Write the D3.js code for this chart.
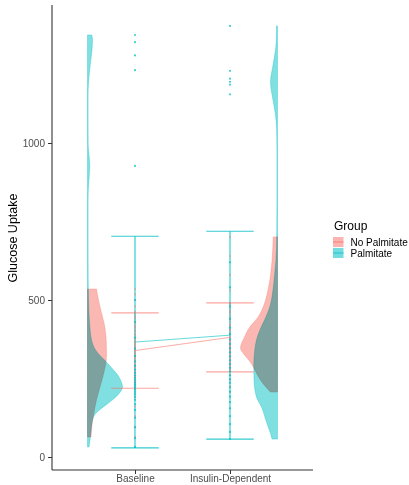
<!DOCTYPE html>
<html>
<head>
<meta charset="utf-8">
<script src="https://cdn.jsdelivr.net/npm/d3@7"></script>
<style>
  html, body { margin: 0; padding: 0; background: #fff; }
  svg { display: block; font-family: "Liberation Sans", Arial, sans-serif; }
</style>
</head>
<body>
<svg id="chart" width="409" height="485"></svg>
<script>
// Time points and groups
const conditions = ["Baseline", "Insulin-Dependent"];
const groups = ["No Palmitate", "Palmitate"];
const yTicks = [0, 500, 1000];

// Group summaries: mean and standard deviation per condition
const meanNoPalmitate = [339, 381];
const sdNoPalmitate = [120, 110];
const meanPalmitate = [366, 388];
const sdPalmitate = [337, 331];

// Individual observations (glucose uptake)
const obsBaselineNoPalmitate = [64, 95, 130, 160, 190, 215, 240, 255, 270, 285, 295, 305, 315, 322, 330, 338,
  345, 352, 360, 368, 378, 390, 402, 415, 430, 445, 462, 480, 500, 518, 535];
const obsBaselinePalmitate = [32, 60, 95, 125, 150, 168, 182, 192, 200, 207, 214, 220, 226, 232, 238, 245, 252,
  260, 268, 278, 290, 305, 322, 345, 380, 430, 500, 927, 1232, 1279, 1321, 1344];
const obsInsulinNoPalmitate = [207, 225, 245, 262, 278, 292, 303, 312, 320, 328, 335, 342, 348, 355, 362, 370,
  380, 392, 405, 420, 440, 462, 490, 530, 580, 640, 701];
const obsInsulinPalmitate = [57, 80, 105, 130, 155, 175, 192, 208, 222, 236, 248, 260, 272, 284, 296, 308, 320,
  333, 346, 360, 375, 392, 412, 440, 480, 540, 620, 1155, 1186, 1195, 1205, 1230, 1373];

// Kernel density profiles (value, relative density)
const densBaselineNoPalmitate = [[64, 0.095], [102, 0.122], [134, 0.162], [182, 0.243], [229, 0.351], [277, 0.459],
  [325, 0.514], [373, 0.505], [420, 0.459], [459, 0.378], [500, 0.297], [535, 0.243]];
const densBaselinePalmitate = [[32, 0.041], [54, 0.068], [86, 0.095], [118, 0.135], [134, 0.189], [150, 0.324],
  [166, 0.5], [182, 0.676], [204, 0.865], [223, 0.946], [245, 0.892], [262, 0.811], [277, 0.703], [293, 0.581],
  [309, 0.459], [325, 0.324], [341, 0.216], [357, 0.149], [373, 0.108], [404, 0.07], [436, 0.049], [500, 0.027],
  [564, 0.019], [691, 0.016], [818, 0.016], [850, 0.022], [875, 0.035], [898, 0.049], [930, 0.062], [962, 0.041],
  [994, 0.019], [1073, 0.016], [1153, 0.016], [1191, 0.027], [1232, 0.059], [1264, 0.089], [1296, 0.122],
  [1328, 0.135], [1344, 0.116]];
const densInsulinNoPalmitate = [[207, 0.189], [236, 0.405], [261, 0.541], [283, 0.635], [302, 0.73], [325, 0.892],
  [347, 1.0], [382, 0.892], [414, 0.749], [443, 0.541], [478, 0.386], [532, 0.257], [586, 0.181], [659, 0.13],
  [701, 0.116]];
const densInsulinPalmitate = [[57, 0.149], [64, 0.162], [108, 0.289], [159, 0.432], [191, 0.568], [245, 0.635],
  [293, 0.641], [341, 0.614], [373, 0.568], [404, 0.478], [436, 0.351], [478, 0.208], [532, 0.122], [586, 0.073],
  [627, 0.041], [691, 0.022], [818, 0.016], [978, 0.016], [1051, 0.027], [1089, 0.054], [1137, 0.122],
  [1194, 0.189], [1248, 0.122], [1296, 0.054], [1328, 0.032], [1373, 0.027]];

const colours = { "No Palmitate": "#F8766D", "Palmitate": "#00BFC4" };

const svg = d3.select("#chart");
const panel = { left: 52, right: 313, top: 5, bottom: 470 };

const x = d3.scalePoint().domain(conditions).range([panel.left, panel.right]).padding(0.8737);
const step = x.step();
const y = d3.scaleLinear().domain([-41.4, 1439.5]).range([panel.bottom, panel.top]);
const densityWidth = d3.scaleLinear().domain([0, 1]).range([0, 37]);

// Half violins: Baseline opens to the right of its left edge, Insulin-Dependent opens to the left
const violins = [
  { cond: "Baseline", group: "No Palmitate", dens: densBaselineNoPalmitate, side: -1 },
  { cond: "Baseline", group: "Palmitate", dens: densBaselinePalmitate, side: -1 },
  { cond: "Insulin-Dependent", group: "No Palmitate", dens: densInsulinNoPalmitate, side: 1 },
  { cond: "Insulin-Dependent", group: "Palmitate", dens: densInsulinPalmitate, side: 1 }
];

const violinLayer = svg.append("g").style("isolation", "isolate");
violins.forEach(v => {
  const flat = x(v.cond) + v.side * 0.5 * step;
  const area = d3.area()
    .curve(d3.curveMonotoneY)
    .y(d => y(d[0]))
    .x0(flat)
    .x1(d => flat - v.side * densityWidth(d[1]));
  violinLayer.append("path")
    .datum(v.dens)
    .attr("d", area)
    .attr("fill", colours[v.group])
    .attr("fill-opacity", v.group === "Palmitate" ? 0.5 : 0.52)
    .attr("stroke", colours[v.group])
    .attr("stroke-opacity", 0.55)
    .attr("stroke-width", 0.6)
    .style("mix-blend-mode", "multiply");
});

// Error bars (mean ± SD)
const summaries = [
  { group: "No Palmitate", mean: meanNoPalmitate, sd: sdNoPalmitate },
  { group: "Palmitate", mean: meanPalmitate, sd: sdPalmitate }
];
const capHalf = 0.25 * step;
summaries.forEach(s => {
  const g = svg.append("g")
    .attr("stroke", colours[s.group])
    .attr("stroke-opacity", s.group === "Palmitate" ? 0.8 : 0.65)
    .attr("stroke-width", 1.2)
    .attr("fill", "none");
  conditions.forEach((c, i) => {
    const lo = s.mean[i] - s.sd[i], hi = s.mean[i] + s.sd[i];
    g.append("line").attr("x1", x(c)).attr("x2", x(c)).attr("y1", y(lo)).attr("y2", y(hi));
    g.append("line").attr("x1", x(c) - capHalf).attr("x2", x(c) + capHalf).attr("y1", y(lo)).attr("y2", y(lo));
    g.append("line").attr("x1", x(c) - capHalf).attr("x2", x(c) + capHalf).attr("y1", y(hi)).attr("y2", y(hi));
  });
});

// Lines joining group means
const meanLine = d3.line().x((d, i) => x(conditions[i])).y(d => y(d));
summaries.forEach(s => {
  svg.append("path")
    .datum(s.mean)
    .attr("d", meanLine)
    .attr("fill", "none")
    .attr("stroke", colours[s.group])
    .attr("stroke-opacity", 0.6)
    .attr("stroke-width", 1);
});

// Observations
const observations = [
  { cond: "Baseline", group: "No Palmitate", values: obsBaselineNoPalmitate },
  { cond: "Baseline", group: "Palmitate", values: obsBaselinePalmitate },
  { cond: "Insulin-Dependent", group: "No Palmitate", values: obsInsulinNoPalmitate },
  { cond: "Insulin-Dependent", group: "Palmitate", values: obsInsulinPalmitate }
];
observations.forEach(o => {
  svg.append("g").selectAll("circle")
    .data(o.values)
    .join("circle")
    .attr("cx", x(o.cond))
    .attr("cy", d => y(d))
    .attr("r", 1.1)
    .attr("fill", colours[o.group])
    .attr("fill-opacity", o.group === "Palmitate" ? 0.75 : 0.45);
});

// Axes
const axisColour = "#333";
const yAxis = svg.append("g")
  .attr("transform", `translate(${panel.left},0)`)
  .call(d3.axisLeft(y).tickValues(yTicks).tickSize(4).tickPadding(3).tickFormat(d3.format("d")));
yAxis.select(".domain").attr("d", `M0,${panel.top}V${panel.bottom}`).attr("stroke", axisColour).attr("stroke-width", 1.1);
yAxis.selectAll(".tick line").attr("stroke", axisColour);
yAxis.selectAll(".tick text").attr("fill", "#4D4D4D").style("font-size", "10px");

const xAxis = svg.append("g")
  .attr("transform", `translate(0,${panel.bottom})`)
  .call(d3.axisBottom(x).tickSize(4).tickPadding(1));
xAxis.select(".domain").attr("d", `M${panel.left},0H${panel.right}`).attr("stroke", axisColour).attr("stroke-width", 1.1);
xAxis.selectAll(".tick line").attr("stroke", axisColour);
xAxis.selectAll(".tick text").attr("fill", "#4D4D4D").style("font-size", "10px");

svg.append("text")
  .attr("transform", `translate(16.5,238) rotate(-90)`)
  .attr("text-anchor", "middle")
  .style("font-size", "12.5px")
  .attr("fill", "#000")
  .text("Glucose Uptake");

// Legend
const legend = svg.append("g").attr("transform", "translate(333,0)");
legend.append("text").attr("x", 1).attr("y", 230).style("font-size", "12px").attr("fill", "#000").text("Group");
groups.forEach((gName, i) => {
  const top = 237 + i * 11;
  const key = legend.append("g");
  key.append("rect").attr("x", 0).attr("y", top).attr("width", 10.5).attr("height", 10)
    .attr("fill", colours[gName]).attr("fill-opacity", 0.55);
  key.append("line").attr("x1", 0).attr("x2", 10.5).attr("y1", top + 5).attr("y2", top + 5)
    .attr("stroke", colours[gName]).attr("stroke-width", 1).attr("stroke-opacity", 0.8);
  legend.append("text").attr("x", 17.5).attr("y", top + 8.5).style("font-size", "10px").attr("fill", "#000").text(gName);
});
</script>
</body>
</html>
